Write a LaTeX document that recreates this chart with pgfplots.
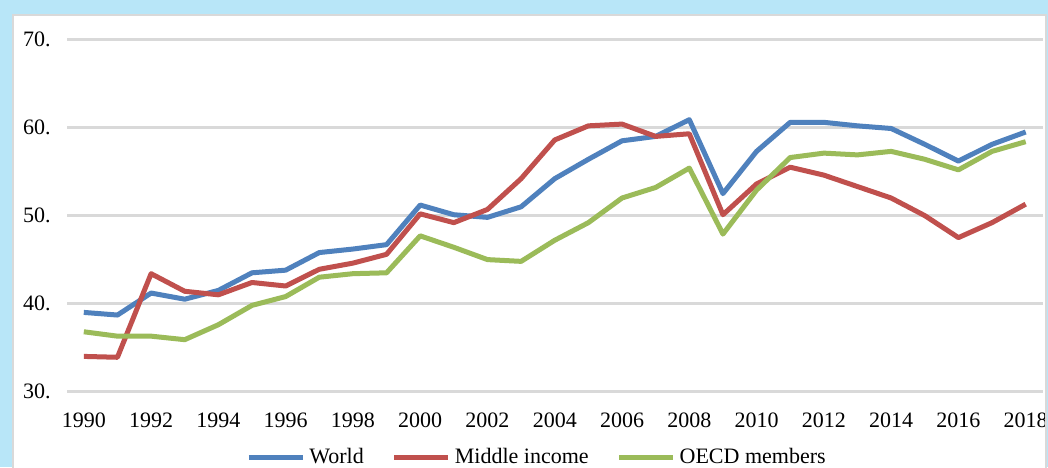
\documentclass[border=0pt]{standalone}
\usepackage{pgfplots}
\pgfplotsset{compat=1.18}
\usepackage{pgfplotstable}
\usepackage{fontspec}
\setmainfont{Liberation Serif}
\definecolor{bgblue}{RGB}{184,230,248}
\definecolor{gridgray}{RGB}{217,217,217}
\definecolor{cworld}{RGB}{79,129,189}
\definecolor{cmid}{RGB}{192,80,77}
\definecolor{coecd}{RGB}{155,187,89}
\pgfplotstableread{
year world mid oecd
1990 39.0 34.0 36.8
1991 38.7 33.9 36.3
1992 41.2 43.4 36.3
1993 40.5 41.4 35.9
1994 41.5 41.0 37.6
1995 43.5 42.4 39.8
1996 43.8 42.0 40.8
1997 45.8 43.9 43.0
1998 46.2 44.6 43.4
1999 46.7 45.6 43.5
2000 51.2 50.2 47.7
2001 50.1 49.2 46.4
2002 49.8 50.7 45.0
2003 51.0 54.2 44.8
2004 54.2 58.6 47.2
2005 56.4 60.2 49.2
2006 58.5 60.4 52.0
2007 59.0 59.0 53.2
2008 60.9 59.3 55.4
2009 52.5 50.1 47.9
2010 57.3 53.6 52.9
2011 60.6 55.5 56.6
2012 60.6 54.6 57.1
2013 60.2 53.3 56.9
2014 59.9 52.0 57.3
2015 58.1 50.0 56.4
2016 56.2 47.5 55.2
2017 58.1 49.2 57.3
2018 59.5 51.3 58.4
}\datatable
\begin{document}
\begin{tikzpicture}[font=\fontsize{11pt}{13pt}\selectfont]
\useasboundingbox (0,0) rectangle (524pt,233.5pt);
\clip (0,0) rectangle (524pt,233.5pt);
\fill[bgblue] (0,0) rectangle (524pt,233.5pt);
\fill[white] (6.5pt,-2pt) rectangle (523pt,226pt);
\draw[gridgray, line width=1.2pt] (6.5pt,-2pt) -- (6.5pt,226pt) -- (523pt,226pt) -- (523pt,-2pt);
\begin{axis}[
  at={(33.5pt,37.7pt)}, anchor=south west,
  width=487.75pt, height=176pt, scale only axis,
  xmin=1989.5, xmax=2018.5, ymin=30, ymax=70,
  axis line style={draw=none}, tick style={draw=none},
  ymajorgrids, grid style={gridgray, line width=1.2pt},
  ytick={30,40,50,60,70}, yticklabels={30.,40.,50.,60.,70.},
  xtick={1990,1992,...,2018},
  xticklabels={1990,1992,1994,1996,1998,2000,2002,2004,2006,2008,2010,2012,2014,2016,2018},
  yticklabel style={inner sep=0pt, anchor=east, xshift=-8pt},
  xticklabel style={inner sep=0pt, anchor=north, yshift=-10.5pt},
  legend columns=3,
  legend style={draw=none, fill=none, at={(0.1835,-0.1878)}, anchor=west, inner sep=0pt,
    /tikz/every even column/.append style={column sep=12pt}},
  legend image code/.code={\draw[#1] (0pt,0pt) -- (27pt,0pt);},
  every axis plot/.append style={line width=2.5pt, line join=round},
]
\addplot[cworld] table[x=year,y=world]{\datatable};
\addlegendentry{World}
\addplot[cmid] table[x=year,y=mid]{\datatable};
\addlegendentry{Middle income}
\addplot[coecd] table[x=year,y=oecd]{\datatable};
\addlegendentry{OECD members}
\end{axis}
\draw[gridgray, line width=1.2pt] (523pt,-2pt) -- (523pt,226pt);
\end{tikzpicture}
\end{document}
